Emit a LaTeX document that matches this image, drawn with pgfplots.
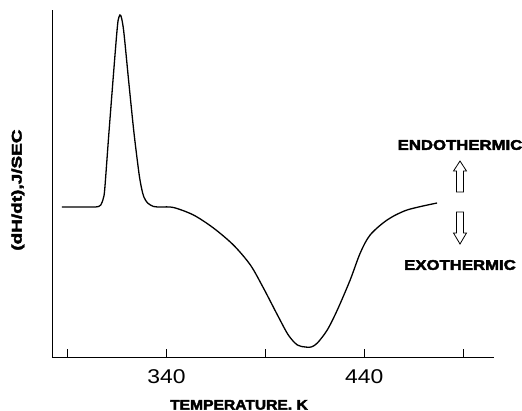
\documentclass[border=0pt]{standalone}
\usepackage{fontspec}
\setmainfont{Liberation Sans}
\usepackage{pgfplots}
\pgfplotsset{compat=1.18}

\newfontfamily\heavyfont[FakeStretch=1.12,FakeBold=3]{Liberation Sans Bold}
\newfontfamily\heavywide[FakeStretch=1.2,FakeBold=3]{Liberation Sans Bold}
\newfontfamily\heavyylab[FakeStretch=1.36,FakeBold=3]{Liberation Sans Bold}
\newfontfamily\tickfont[FakeStretch=1.15]{Liberation Sans}

\begin{document}
\begin{tikzpicture}
\begin{axis}[
    scale only axis,
    width=442bp,
    height=347bp,
    xmin=282, xmax=505.7,
    ymin=0, ymax=347,
    axis lines=left,
    axis line style={-, line width=0.9bp},
    xtick={290,340,390,440,490},
    xticklabels={,340,,440,},
    ytick=\empty,
    tick align=inside,
    major tick length=8bp,
    tick style={black, line width=0.9bp},
    /pgf/number format/assume math mode=true,
    xticklabel style={font=\tickfont\fontsize{20}{20}\selectfont, inner sep=0pt, anchor=north, yshift=-12bp},
    xlabel={TEMPERATURE. K},
    xlabel style={font=\heavyfont\fontsize{14}{14}\selectfont, at={(axis description cs:0.423,-0.138)}, anchor=center},
    ylabel={(dH/dt),J/SEC},
    ylabel style={font=\heavyylab\fontsize{14}{14}\selectfont, at={(axis description cs:-0.077,0.481)}, anchor=center},
    clip=false,
]
\addplot[black, line width=1.3bp, smooth, tension=0.5] coordinates {
    (287.0,150) (301.6,150) (304.0,150) (305.6,150.5) (306.7,152)
    (307.4,155) (308.0,159) (308.7,168) (310.8,224) (313.4,290)
    (314.8,324) (315.5,337) (316.4,342) (317.2,339) (318.4,324)
    (320.9,274) (323.5,224) (326.0,184) (327.3,169) (328.5,160)
    (330.4,154) (333.4,150.5) (337.0,150) (343.5,149.5) (353.6,142)
    (363.7,129) (373.8,112) (382.4,92) (389.0,69) (396.1,42)
    (401.6,22) (406.2,12) (410.2,10) (413.2,10) (416.3,14)
    (421.3,27) (426.4,47) (432.9,77) (438.0,104) (443.0,122)
    (451.6,137) (461.7,147) (476.9,154)
};
\end{axis}
% annotation on the right
\node[font=\heavywide\fontsize{14}{14}\selectfont] at (408bp,212bp) {ENDOTHERMIC};
\node[font=\heavywide\fontsize{14}{14}\selectfont] at (408bp,92bp) {EXOTHERMIC};
\draw[line width=0.8bp, fill=white]
    (404.5bp,165bp) -- (404.5bp,186bp) -- (401.5bp,186bp) -- (408bp,196bp)
    -- (414.5bp,186bp) -- (411.5bp,186bp) -- (411.5bp,165bp) -- cycle;
\draw[line width=0.8bp, fill=white]
    (404.5bp,145bp) -- (404.5bp,124bp) -- (401.5bp,124bp) -- (408bp,113bp)
    -- (414.5bp,124bp) -- (411.5bp,124bp) -- (411.5bp,145bp) -- cycle;
\pgfresetboundingbox
\path[use as bounding box] (-52bp,-54bp) rectangle (470bp,357bp);
\end{tikzpicture}
\end{document}
